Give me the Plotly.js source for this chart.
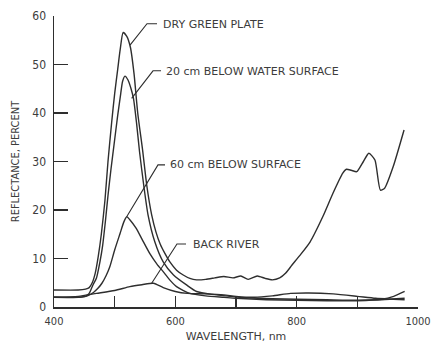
<!DOCTYPE html>
<html>
<head>
<meta charset="utf-8">
<script src="https://cdn.plot.ly/plotly-3.0.1.min.js"></script>
<style>html,body{margin:0;padding:0;background:#fff;}</style>
</head>
<body>
<div id="chart" style="width:431px;height:343px;"></div>
<script>
// Dry green plate
var wlDry = [400,440,452,458,463,468,473,478,484,489,495,500,505,509,514,520,526,532,538,546,553,561,568,575,583,591,602,613,624,635,650,665,680,695,708,720,735,748,760,772,782,792,805,822,843,860,876,882,890,899,910,919,929,938,945,959,977];
var refDry = [3.5,3.5,3.7,4.0,5.0,7.0,10.5,15,22,30,38,44,49,53,56.6,55.8,53.5,48,40,32.4,25,19,15.5,13,11,9.3,7.6,6.6,5.9,5.6,5.7,6.0,6.3,6.0,6.4,5.7,6.4,5.9,5.6,6.0,7.0,8.6,10.6,13.4,18.6,23.5,27.6,28.4,28.2,27.9,30,31.7,30.3,24.1,24.5,28.9,36.5];
// 20 cm below water surface
var wl20 = [400,440,452,458,464,470,476,480,485,489,494,499,505,510,513,517,522,527,531,536,541,548,555,566,580,597,619,635,660,690,720,760,800,850,900,940,978];
var ref20 = [2.0,2.0,2.2,2.8,4.5,6.0,9.5,12.5,18,23,28.5,33.5,39.5,44,46.5,47.6,46.8,45,43,38,32,25,19,13.5,9.3,6.6,4.5,3.2,2.6,2.2,1.9,1.7,1.6,1.5,1.4,1.5,1.8];
// 60 cm below surface
var wl60 = [400,440,455,465,472,479,486,492,500,509,515,520,525,535,545,558,570,580,590,602,624,650,680,700,750,800,850,900,940,960,978];
var ref60 = [2.0,2.0,2.3,3.0,3.8,4.9,6.5,8.3,11.75,15.2,17.5,18.6,18.0,16.3,14.0,11.0,8.8,7.3,5.7,4.2,2.8,2.3,2.0,1.8,1.5,1.4,1.3,1.3,1.6,2.2,3.2];
// Back River
var wlBack = [400,440,470,500,525,545,564,580,600,620,650,680,700,730,760,790,820,860,900,930,960,978];
var refBack = [2.0,2.2,2.8,3.4,4.2,4.6,4.9,4.0,3.2,2.8,2.7,2.5,2.2,2.0,2.3,2.8,2.9,2.7,2.2,1.8,1.6,1.5];

var labels = ["DRY GREEN PLATE","20 cm BELOW WATER SURFACE","60 cm BELOW SURFACE","BACK RIVER"];
var xTickVals = [400,600,800,1000];
var yTickVals = [0,10,20,30,40,50,60];

var lineColor = "#2e2e2e";
var textColor = "#3c3c3c";
var fontCond = "DejaVu Sans Condensed, DejaVu Sans, sans-serif";
var fontWide = "DejaVu Sans, sans-serif";

function tr(x, y, name) {
  return {x: x, y: y, name: name, type: "scatter", mode: "lines",
    line: {color: lineColor, width: 1.4, shape: "spline", smoothing: 0.6},
    hoverinfo: "skip"};
}
var data = [tr(wlDry, refDry, labels[0]), tr(wl20, ref20, labels[1]), tr(wl60, ref60, labels[2]), tr(wlBack, refBack, labels[3])];

// label anchor positions (text start) and leader paths in axis units
var labelPos = [[575.8,58.35],[581.3,48.66],[587.9,29.28],[625.3,12.99]];
var leaders = [
  "M 525.3,54.0 L 553.3,58.4 L 569.8,58.4",
  "M 528.0,43.0 L 563.2,48.7 L 576.4,48.7",
  "M 519.8,18.6 L 571.4,29.3 L 583.0,29.3",
  "M 561.0,4.9 L 602.7,13.0 L 617.6,13.0"
];

var annotations = labels.map(function(t, i){
  return {text: t, x: labelPos[i][0], y: labelPos[i][1], xref: "x", yref: "y",
    xanchor: "left", yanchor: "middle", showarrow: false,
    font: {family: fontWide, size: 11, color: textColor}};
});
var shapes = leaders.map(function(p){
  return {type: "path", path: p, xref: "x", yref: "y", line: {color: lineColor, width: 1.1}};
});

var layout = {
  width: 431, height: 343,
  margin: {l: 54, r: 13, t: 16, b: 36, pad: 0},
  paper_bgcolor: "#ffffff", plot_bgcolor: "#ffffff",
  showlegend: false,
  font: {family: fontCond, color: textColor},
  xaxis: {
    range: [400, 1000], tickmode: "array", tickvals: xTickVals, ticktext: xTickVals.map(String),
    ticks: "inside", ticklen: 11, tickwidth: 1.3, tickcolor: lineColor,
    showline: true, linecolor: lineColor, linewidth: 1.5,
    showgrid: false, zeroline: false,
    minor: {tick0: 400, dtick: 100, ticks: "inside", ticklen: 11, tickwidth: 1.3, tickcolor: lineColor, showgrid: false},
    tickfont: {family: fontCond, size: 11, color: textColor},
    ticklabelstandoff: 3, ticklabeloverflow: "allow",
    title: {text: "WAVELENGTH, nm", font: {family: fontWide, size: 11, color: textColor}, standoff: 6}
  },
  yaxis: {
    range: [0, 60], tickmode: "array", tickvals: yTickVals, ticktext: yTickVals.map(String),
    ticks: "inside", ticklen: 14, tickwidth: 1.3, tickcolor: lineColor,
    showline: true, linecolor: lineColor, linewidth: 1.5,
    showgrid: false, zeroline: false,
    tickfont: {family: fontCond, size: 12, color: textColor},
    ticklabelstandoff: 4,
    title: {text: "REFLECTANCE, PERCENT", font: {family: fontCond, size: 11, color: textColor}, standoff: 10}
  },
  annotations: annotations,
  shapes: shapes
};

Plotly.newPlot("chart", data, layout, {displayModeBar: false, staticPlot: true});
</script>
</body>
</html>
